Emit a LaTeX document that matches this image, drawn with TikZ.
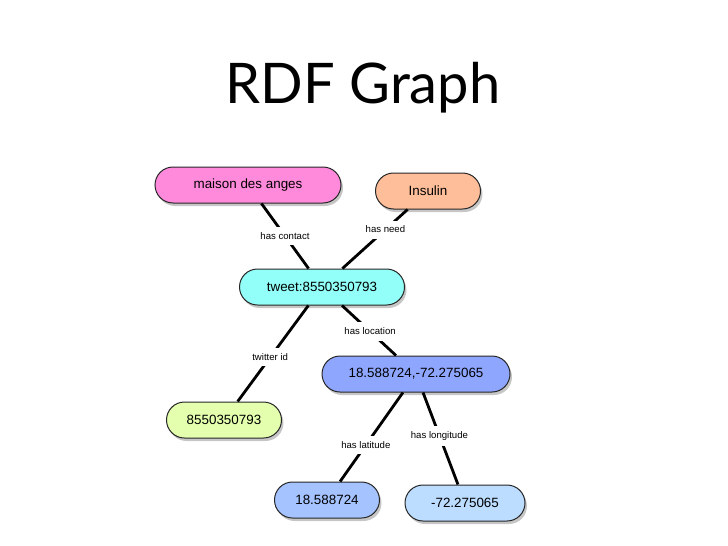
\documentclass[tikz,border=0pt]{standalone}
\usepackage{fontspec}
\setmainfont{Liberation Sans}
\newfontfamily\titlefont{Lato}
\usetikzlibrary{shapes.misc,shadows}

\definecolor{maisonpink}{HTML}{FF8ADB}
\definecolor{insulinpeach}{HTML}{FFBE9A}
\definecolor{tweetcyan}{HTML}{92FFF8}
\definecolor{geoblue}{HTML}{8FA6FF}
\definecolor{idgreen}{HTML}{E4FFAE}
\definecolor{latblue}{HTML}{A5C3FF}
\definecolor{lonblue}{HTML}{BCDDFF}

\begin{document}
\begin{tikzpicture}[
        x=1pt, y=-1pt,
        term/.style={rounded rectangle, draw=black!85, line width=1pt, minimum height=36pt, inner sep=0pt,
            font=\fontsize{13.4}{16}\selectfont,
            drop shadow={shadow xshift=2pt, shadow yshift=-3pt, opacity=0.45}},
        edge/.style={draw, line width=2.8pt},
        lbl/.style={fill=white, inner xsep=2pt, inner ysep=5.5pt, font=\fontsize{9.6}{11}\selectfont},
    ]
    \useasboundingbox (0,0) rectangle (728,546);

    % === TITLE ===
    \node[anchor=base, font=\titlefont\fontsize{56}{60}\selectfont] (title) at (363,103) {RDF Graph};

    % === RESOURCES ===
    \node[term, fill=maisonpink, minimum width=186pt] (maison) at (248,185) {maison des anges};
    \node[term, fill=insulinpeach, minimum width=105pt] (insulin) at (428,191) {Insulin};
    \node[term, fill=tweetcyan, minimum width=165pt] (tweet) at (322,287) {tweet:8550350793};
    \node[term, fill=geoblue, minimum width=188pt] (geo) at (416,374) {18.588724,-72.275065};
    \node[term, fill=idgreen, minimum width=115pt] (tid) at (224,420) {8550350793};
    \node[term, fill=latblue, minimum width=105pt] (lat) at (327,500) {18.588724};
    \node[term, fill=lonblue, minimum width=120pt] (lon) at (465,503) {-72.275065};

    % === PROPERTIES ===
    \draw[edge] (maison) -- node[lbl, pos=0.5] {has contact} (tweet);
    \draw[edge] (insulin) -- node[lbl, pos=0.34] {has need} (tweet);
    \draw[edge] (tweet) -- node[lbl, pos=0.54] {twitter id} (tid);
    \draw[edge] (tweet) -- node[lbl, pos=0.52] {has location} (geo);
    \draw[edge] (geo) -- node[lbl, pos=0.59] {has latitude} (lat);
    \draw[edge] (geo) -- node[lbl, pos=0.47] {has longitude} (lon);

\end{tikzpicture}
\end{document}
